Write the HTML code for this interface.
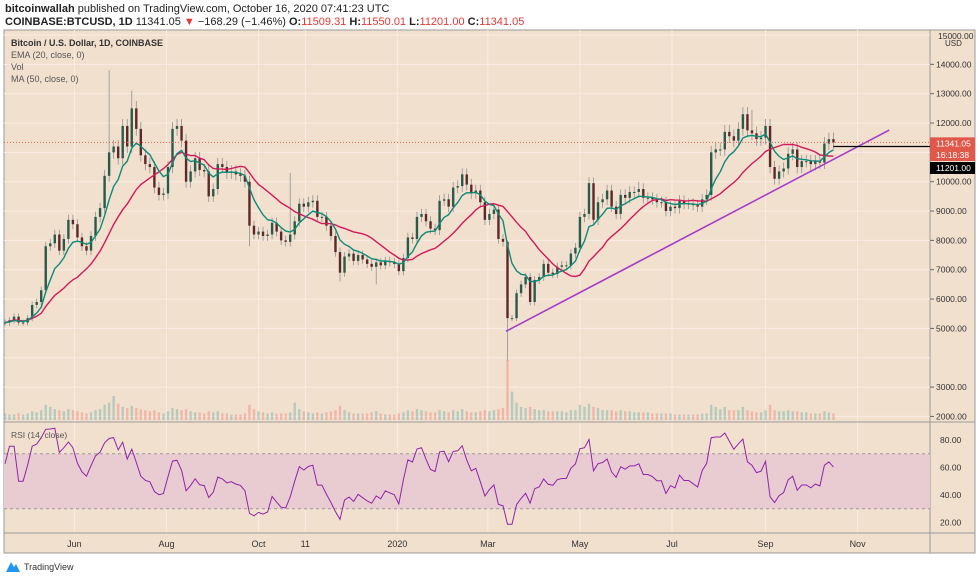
<!DOCTYPE html>
<html><head><meta charset="utf-8">
<style>
body{margin:0;width:980px;height:580px;background:#fff;font-family:"Liberation Sans",sans-serif;overflow:hidden}
#hdr1{position:absolute;left:5px;top:3px;font-size:11px;color:#222}
#hdr2{position:absolute;left:5px;top:16px;font-size:11px;color:#222}
.r{color:#e53935}
svg{position:absolute;left:0;top:0}
</style></head><body>
<div id="hdr1"><b>bitcoinwallah</b> published on TradingView.com, October 16, 2020 07:41:23 UTC</div>
<div id="hdr2"><b>COINBASE:BTCUSD, 1D</b> 11341.05 <span class="r">▼</span> −168.29 (−1.46%) <b>O:</b><span class="r">11509.31</span> <b>H:</b><span class="r">11550.01</span> <b>L:</b><span class="r">11201.00</span> <b>C:</b><span class="r">11341.05</span></div>
<svg id="chart" width="980" height="580"></svg>
<script>
const closes=[5200,5280,5400,5200,5200,5350,5800,5900,6300,7800,7900,8200,7650,8050,8700,8550,
8100,7800,7650,8150,8800,9100,10200,11000,11200,10800,
11900,11200,12500,11800,10900,10600,10500,9800,9550,9600,
10500,11800,11900,11400,10000,10350,10800,10400,10350,9500,
9750,10600,10500,10300,10350,10250,10200,10000,8500,8200,
8300,8150,8200,8600,8300,8000,7950,8200,8650,9250,9150,
9300,9350,8800,8800,8500,8150,7600,6900,7450,7550,
7300,7500,7350,7200,7100,7250,7150,7300,7250,7200,
6950,7400,8100,8050,8800,8900,8650,8400,8350,9350,
9400,9150,9800,9850,10250,9900,9600,9700,9300,8700,
8900,9050,8050,7950,5350,5350,6200,6500,6750,5900,
6650,6750,7200,6900,6850,7100,7150,7150,7550,7750,
8800,8900,9950,8700,9300,9400,9700,9150,8900,9550,9450,
9650,9650,9750,9450,9450,9400,9300,9300,9000,9150,
9100,9350,9250,9250,9200,9150,9400,9550,11000,11100,
11100,11700,11550,11400,11800,12300,11750,11650,11450,11500,
11900,10500,10100,10350,10450,10950,11100,10500,10700,10700,
10600,10700,10650,11300,11450,11341];
const spikeIdx=[23,28,63,111,140,165];
const spikeHigh=[13800,13100,10300,8000,10000,12450];
const spikeLowIdx=[111,54,74,82];
const spikeLow=[3900,7800,6600,6500];
const volumes=[6,5,5,6,5,6,8,7,9,14,12,10,9,8,10,9,8,7,6,7,9,10,14,16,22,15,12,11,13,11,10,9,8,9,7,6,
8,11,10,9,10,8,7,7,6,8,7,8,6,6,5,5,5,6,14,10,8,7,6,7,6,6,6,7,16,10,8,7,6,7,6,7,8,9,13,9,7,
6,6,6,6,7,8,6,5,5,5,6,7,9,8,10,9,8,7,7,9,8,7,9,8,10,8,7,7,8,9,8,9,10,11,55,26,16,12,11,12,
10,9,9,8,8,8,8,7,9,9,14,12,15,12,11,9,9,9,8,9,8,8,7,7,7,7,6,6,6,6,6,5,5,5,5,5,5,6,6,14,12,
10,12,9,9,9,12,9,8,7,7,9,14,9,8,8,9,8,8,7,7,6,6,6,8,7,6];
const priceTicks=[2000,3000,5000,6000,7000,8000,9000,10000,11000,12000,13000,14000];
const rsiTicks=[20,40,60,80];
const monthLabels=["Jun","Aug","Oct","11","2020","Mar","May","Jul","Sep","Nov"];
const monthDays=[46,107,168,199,260,320,381,442,504,565]; // days since 2019-04-16
const stepDays=3;

const NS="http://www.w3.org/2000/svg",svg=document.getElementById('chart');
function el(t,a,p){const e=document.createElementNS(NS,t);for(const k in a)e.setAttribute(k,a[k]);(p||svg).appendChild(e);return e;}
const xDay=d=>5+d*1.509, yP=p=>35+(15000-p)*0.02934, yR=v=>440+(80-v)*1.375;
const L=4,R=930,T=30,PB=422,RB=533,B=553;

let g=el('rect',{x:L,y:T,width:R-L,height:B-T,fill:'#f2e0cf',stroke:'#9a9a9a'});

let ab=el('rect',{x:R,y:T,width:975-R,height:B-T,fill:'#f2e0cf',stroke:'#9a9a9a'});

monthDays.forEach((d,i)=>{const x=xDay(d);
 const gl=el('line',{x1:x,x2:x,y1:T,y2:RB,stroke:'#f8ece2','stroke-width':1});
 
 const t=el('text',{x:x,y:547,'font-size':9,'text-anchor':'middle',fill:'#333'});t.textContent=monthLabels[i];
 });
priceTicks.concat([4000,15000]).forEach(p=>{const y=yP(p);
 const gl=el('line',{x1:L,x2:R,y1:y,y2:y,stroke:'#f8ece2'});});
priceTicks.forEach(p=>{const y=yP(p);
 el('line',{x1:R,x2:R+4,y1:y,y2:y,stroke:'#666'});
 const t=el('text',{x:936,y:y+3,'font-size':8.5,fill:'#333'});t.textContent=p.toFixed(2);
 });
let t15=el('text',{x:938,y:39,'font-size':8.5,fill:'#333'});t15.textContent='15000.00';
let usd=el('text',{x:945,y:46,'font-size':8,fill:'#333'});usd.textContent='USD';

el('line',{x1:L,x2:975,y1:PB,y2:PB,stroke:'#9a9a9a'});
el('line',{x1:L,x2:975,y1:RB,y2:RB,stroke:'#9a9a9a'});
const band=el('rect',{x:L,y:yR(70),width:R-L,height:yR(30)-yR(70),fill:'#e9cbd2'});

[70,30].forEach(v=>el('line',{x1:L,x2:R,y1:yR(v),y2:yR(v),stroke:'#9a9a9a','stroke-dasharray':'3,3'}));
rsiTicks.forEach(v=>{const t=el('text',{x:940,y:yR(v)+3,'font-size':8.5,fill:'#333'});t.textContent=v.toFixed(2);
 });

const vmax=Math.max(...volumes);
closes.forEach((c,i)=>{const o=i?closes[i-1]:c;const x=xDay(i*stepDays);const h=volumes[i]/vmax*60;
 const r=el('rect',{x:x-1.2,y:420-h,width:2.4,height:h,fill:c>=o?'rgba(90,170,160,0.4)':'rgba(235,120,110,0.4)'});
 });

closes.forEach((c,i)=>{const o=i?closes[i-1]:c;const x=xDay(i*stepDays);
 let hi=Math.max(o,c)*1.02, lo=Math.min(o,c)*0.98;
 const si=spikeIdx.indexOf(i);if(si>=0)hi=spikeHigh[si];
 const li=spikeLowIdx.indexOf(i);if(li>=0)lo=spikeLow[li];
 const w=el('line',{x1:x,x2:x,y1:yP(hi),y2:yP(lo),stroke:'#909090','stroke-width':0.8});
 
 const b=el('rect',{x:x-1.2,y:yP(Math.max(o,c)),width:2.4,height:Math.max(1,Math.abs(yP(o)-yP(c))),fill:c>=o?'#2a5a48':'#5c2828'});
 });

function path(vals,col,name){let d='';vals.forEach((v,i)=>{d+=(d?'L':'M')+xDay(i*stepDays).toFixed(1)+','+yP(v).toFixed(1);});
 const p=el('path',{d:d,fill:'none',stroke:col,'stroke-width':1.4});}
let ema=[],k=2/(7+1);closes.forEach((c,i)=>ema.push(i?ema[i-1]+k*(c-ema[i-1]):c));
let ma=closes.map((c,i)=>{const s=closes.slice(Math.max(0,i-16),i+1);return s.reduce((a,b)=>a+b,0)/s.length;});
path(ma,'#d2195a','ma-50-line');path(ema,'#0e8a78','ema-20-line');

let rsi=[],ag=0,al=0,P=7;
closes.forEach((c,i)=>{if(!i){rsi.push(65);return;}const ch=c-closes[i-1];const gn=Math.max(ch,0),ls=Math.max(-ch,0);
 if(i<=P){ag+=gn/P;al+=ls/P;}else{ag=(ag*(P-1)+gn)/P;al=(al*(P-1)+ls)/P;}
 rsi.push(al===0?80:100-100/(1+ag/al));});
rsi=rsi.map(v=>50+(v-50)*0.85);
let rd='';rsi.forEach((v,i)=>{rd+=(i?'L':'M')+xDay(i*stepDays).toFixed(1)+','+yR(v).toFixed(1);});
const rp=el('path',{d:rd,fill:'none',stroke:'#8e24aa','stroke-width':1});

const tl=el('line',{x1:xDay(332),y1:yP(4900),x2:xDay(586),y2:yP(11760),stroke:'#a33cc9','stroke-width':1.6});

const lastX=xDay((closes.length-1)*stepDays);
const hl=el('line',{x1:lastX,x2:R,y1:yP(11201),y2:yP(11201),stroke:'#000','stroke-width':1.3});

const pl=el('line',{x1:L,x2:R,y1:yP(11341),y2:yP(11341),stroke:'#e06050','stroke-dasharray':'1,2'});

function lab(y,bg,txt,name){const r=el('rect',{x:R,y:y-6,width:45,height:12,fill:bg});
 const t=el('text',{x:936,y:y+3,'font-size':8.5,fill:'#fff'});t.textContent=txt;}
lab(yP(11341)+1,'#e0584a','11341.05','last-price-label');
lab(155,'#e0584a','16:18:38','countdown-label');
lab(168,'#000','11201.00','low-price-label');

[['Bitcoin / U.S. Dollar, 1D, COINBASE',46,'#333',true],['EMA (20, close, 0)',58,'#555'],['Vol',70,'#555'],['MA (50, close, 0)',82,'#555']].forEach(a=>{
 const t=el('text',{x:11,y:a[1],'font-size':9,fill:a[2],'font-weight':a[3]?'bold':'normal'});t.textContent=a[0];
 });
const rl=el('text',{x:11,y:438,'font-size':8.5,fill:'#555'});rl.textContent='RSI (14, close)';

const lg=el('path',{d:'M6 572 L11 562 L14 567 L16 564 L20 572 Z',fill:'#2196f3'});
const lt=el('text',{x:24,y:570,'font-size':9,fill:'#333'});lt.textContent='TradingView';
</script>
</body></html>
